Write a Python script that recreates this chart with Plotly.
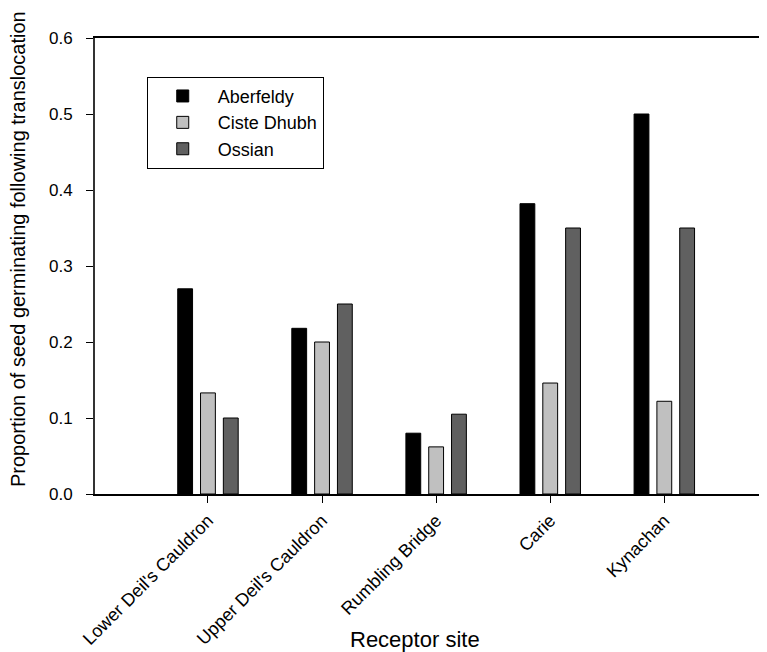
import plotly.graph_objects as go

sites = ["Lower Deil's Cauldron", "Upper Deil's Cauldron", "Rumbling Bridge", "Carie", "Kynachan"]
aberfeldy = [0.270, 0.218, 0.080, 0.382, 0.500]
ciste_dhubh = [0.133, 0.200, 0.062, 0.146, 0.122]
ossian = [0.100, 0.250, 0.105, 0.350, 0.350]
y_ticks = [0.0, 0.1, 0.2, 0.3, 0.4, 0.5, 0.6]

font = "Liberation Sans, Arial, sans-serif"

fig = go.Figure()
for name, vals, col in [("Aberfeldy", aberfeldy, "#000000"),
                        ("Ciste Dhubh", ciste_dhubh, "#c0c0c0"),
                        ("Ossian", ossian, "#606060")]:
    fig.add_trace(go.Bar(x=sites, y=vals, name=name,
                         marker=dict(color=col, line=dict(color="#000000", width=1))))

fig.update_layout(
    width=759, height=644,
    margin=dict(l=87, r=0, t=30, b=158),
    plot_bgcolor="white", paper_bgcolor="white",
    barmode="group", bargap=0.4, bargroupgap=0.35,
    font=dict(family=font, size=17, color="black"),
    legend=dict(x=0.077, y=0.915, xanchor="left", yanchor="top",
                bordercolor="black", borderwidth=1, bgcolor="white",
                font=dict(size=18), itemwidth=60,
                tracegroupgap=0),
    showlegend=True,
    annotations=[
        dict(text="Receptor site", xref="paper", yref="paper",
             x=0.476, y=-0.318, xanchor="center", yanchor="middle",
             showarrow=False, font=dict(size=22)),
        dict(text="Proportion of seed germinating following translocation",
             xref="paper", yref="paper", x=-0.1146, y=0.537,
             xanchor="center", yanchor="middle", textangle=-90,
             showarrow=False, font=dict(size=20)),
    ],
)
fig.update_xaxes(
    type="category", range=[-0.99, 4.9],
    showline=True, linecolor="black", linewidth=2, mirror=True,
    ticks="outside", ticklen=7, tickwidth=1, tickcolor="black",
    tickangle=-45, tickfont=dict(size=18),
    showgrid=False,
)
fig.update_yaxes(
    range=[0, 0.6], tickvals=y_ticks, tickformat=".1f",
    showline=True, linecolor="#333333", linewidth=2,
    ticks="outside", ticklen=7, tickwidth=1, tickcolor="black",
    tickfont=dict(size=17), ticklabelstandoff=10,
    showgrid=False, zeroline=False,
)

fig.write_html("out.html")
